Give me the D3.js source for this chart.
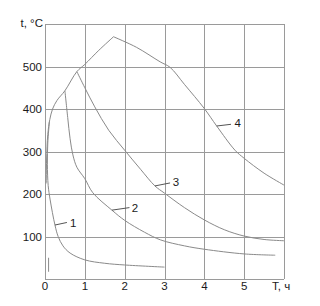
<body style="margin:0;background:#fff">
<script src="https://d3js.org/d3.v7.min.js"></script>
<style>
  svg { font: 11.5px "Liberation Sans", Arial, sans-serif; }
  .grid line { stroke: #9a9a9a; stroke-width: 1; shape-rendering: crispEdges; }
  .curve { fill: none; stroke: #8a8a8a; stroke-width: 1; }
  text { fill: #1a1a1a; }
</style>
<script>
  // tick values
  var xTicks = [0, 1, 2, 3, 4, 5];
  var yTicks = [100, 200, 300, 400, 500];

  // heating envelope [T, t]
  var envelope = [[0.03,225],[0.04,280],[0.07,340],[0.12,375],[0.19,400],[0.3,420],[0.5,443],[0.8,488],[1,505],[1.35,538],[1.72,570]];
  // cooling curves
  var curve1 = [[0.11,370],[0.07,320],[0.06,270],[0.08,220],[0.13,186],[0.25,127],[0.33,100],[0.45,78],[0.63,61],[1,45],[1.5,37],[2,33],[3,28]];
  var curve2 = [[0.5,443],[0.57,380],[0.63,330],[0.7,292],[0.8,263],[1,236],[1.2,203],[1.68,162],[2,138],[2.5,110],[2.9,92],[3.5,78],[4,70],[5,59],[5.78,56]];
  var curve3 = [[0.8,488],[1,450],[1.25,405],[1.6,350],[2,303],[2.4,258],[2.76,219],[3,202],[3.5,168],[4,139],[4.5,116],[5,101],[5.5,93],[6,90]];
  var curve4 = [[1.72,570],[2.3,545],[2.89,511],[3.14,498],[3.5,458],[4,401],[4.31,360],[4.77,303],[5,284],[5.5,249],[6,221]];
  var stub = [[0.09,17],[0.09,50]];

  // curve numbers with leader lines: [label, from, to, text pos]
  var labels = [
    ["1", [0.25,127], [0.55,133], [0.71,131]],
    ["2", [1.68,162], [2.12,168], [2.26,166]],
    ["3", [2.76,219], [3.14,226], [3.29,229]],
    ["4", [4.31,360], [4.67,364], [4.84,366]]
  ];

  var width = 320, height = 306;
  var x = d3.scaleLinear().domain([0, 6]).range([45, 284]);
  var y = d3.scaleLinear().domain([0, 600]).range([279, 24]);

  var svg = d3.select("body").append("svg")
      .attr("width", width)
      .attr("height", height);

  var grid = svg.append("g").attr("class", "grid");
  grid.selectAll(".vx")
      .data(xTicks.concat([6]))
    .enter().append("line")
      .attr("x1", d => Math.round(x(d)) + 0.5).attr("x2", d => Math.round(x(d)) + 0.5)
      .attr("y1", y(600)).attr("y2", y(0));
  grid.selectAll(".hy")
      .data([0].concat(yTicks, [600]))
    .enter().append("line")
      .attr("y1", d => Math.round(y(d)) + 0.5).attr("y2", d => Math.round(y(d)) + 0.5)
      .attr("x1", x(0)).attr("x2", x(6));

  // tick labels
  svg.selectAll(".xt")
      .data(xTicks)
    .enter().append("text")
      .attr("x", d => x(d))
      .attr("y", 290)
      .attr("text-anchor", "middle")
      .text(d => d);
  svg.selectAll(".yt")
      .data(yTicks)
    .enter().append("text")
      .attr("x", 42)
      .attr("y", d => y(d) + 4)
      .attr("text-anchor", "end")
      .text(d => d);

  svg.append("text").attr("x", 43).attr("y", 27).attr("text-anchor", "end").text("t, °C");
  svg.append("text").attr("x", 272).attr("y", 290).text("T, ч");

  var line = d3.line()
      .x(d => x(d[0])).y(d => y(d[1]))
      .curve(d3.curveCatmullRom.alpha(0.5));

  svg.selectAll(".curve")
      .data([envelope, curve1, curve2, curve3, curve4, stub])
    .enter().append("path")
      .attr("class", "curve")
      .attr("d", line);

  var lab = svg.selectAll(".lab")
      .data(labels)
    .enter().append("g");
  lab.append("line")
      .attr("x1", d => x(d[1][0])).attr("y1", d => y(d[1][1]))
      .attr("x2", d => x(d[2][0])).attr("y2", d => y(d[2][1]))
      .attr("stroke", "#555");
  lab.append("text")
      .attr("x", d => x(d[3][0]))
      .attr("y", d => y(d[3][1]) + 4)
      .attr("text-anchor", "middle")
      .text(d => d[0]);
</script>
</body>
